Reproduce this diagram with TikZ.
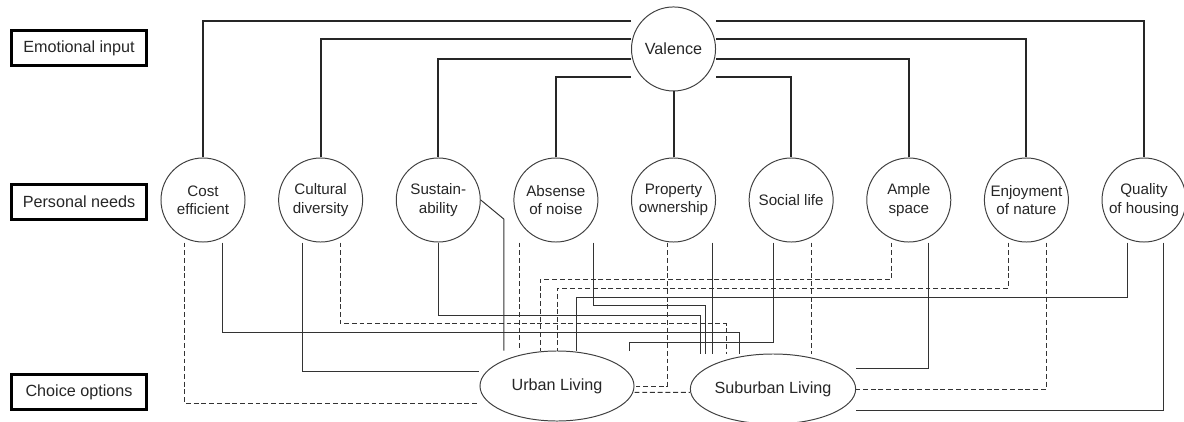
\documentclass[tikz,border=0pt]{standalone}
\usepackage{fontspec}
\setmainfont{Liberation Sans}
\usetikzlibrary{
  positioning,
  shapes.geometric
}

\begin{document}
\begin{tikzpicture}[
    x=0.025cm,
    y=-0.025cm,
    text=black!85,
    node distance=2.94cm,
    on grid,
    tier/.style={
        draw=black,
        line width=2.2pt,
        minimum width=3.375cm,
        minimum height=0.875cm,
        inner sep=0pt,
        font=\fontsize{11.5}{13}\selectfont
    },
    need/.style={
        circle,
        draw=black!75,
        line width=0.7pt,
        minimum size=2.1cm,
        inner sep=0pt,
        align=center,
        font=\fontsize{10.8}{13}\selectfont
    },
    choice/.style={
        ellipse,
        draw=black!75,
        line width=0.7pt,
        minimum width=3.85cm,
        minimum height=1.75cm,
        inner sep=0pt,
        font=\fontsize{11.5}{13}\selectfont
    },
    mainline/.style={
        line width=1.4pt,
        black!85
    },
    posline/.style={
        line width=0.7pt,
        black!80
    },
    negline/.style={
        posline,
        dash pattern=on 3.5pt off 2pt
    }
]

\useasboundingbox (0,0) rectangle (1184,421);

% ============================================================
% LEVELS
% ============================================================

\node[tier] (emo) at (79,48) {Emotional input};
\node[tier] (pers) at (79,202) {Personal needs};
\node[tier] (choi) at (79,392) {Choice options};

% ============================================================
% PERSONAL NEEDS
% ============================================================

\node[need] (cost) at (203,200) {Cost\\efficient};
\node[need, right=of cost] (cult) {Cultural\\diversity};
\node[need, right=of cult] (sust) {Sustain-\\ability};
\node[need, right=of sust] (absn) {Absense\\of noise};
\node[need, right=of absn] (prop) {Property\\ownership};
\node[need, right=of prop] (soc) {Social life};
\node[need, right=of soc] (amp) {Ample\\space};
\node[need, right=of amp] (enj) {Enjoyment\\of nature};
\node[need, right=of enj] (qual) {Quality\\of housing};

\node[need, font=\fontsize{11.5}{13}\selectfont, above=3.775cm of prop] (val) {Valence};

% ============================================================
% CHOICE OPTIONS
% ============================================================

\node[choice] (urb) at (557,386) {Urban Living};
\node[choice] (sub) at (773,389) {Suburban Living};

% ============================================================
% VALENCE LINKS
% ============================================================

\draw[mainline] ([yshift=0.71cm]val.west) -| (cost.north);
\draw[mainline] ([yshift=0.24cm]val.west) -| (cult.north);
\draw[mainline] ([yshift=-0.24cm]val.west) -| (sust.north);
\draw[mainline] ([yshift=-0.71cm]val.west) -| (absn.north);
\draw[mainline] (val) -- (prop);
\draw[mainline] ([yshift=-0.71cm]val.east) -| (soc.north);
\draw[mainline] ([yshift=-0.24cm]val.east) -| (amp.north);
\draw[mainline] ([yshift=0.24cm]val.east) -| (enj.north);
\draw[mainline] ([yshift=0.71cm]val.east) -| (qual.north);

% ============================================================
% DROP POINTS
% ============================================================

\coordinate (cost-a) at ([xshift=-0.475cm]cost.south);
\coordinate (cost-b) at ([xshift=0.475cm]cost.south);
\coordinate (cult-a) at ([xshift=-0.465cm]cult.south);
\coordinate (cult-b) at ([xshift=0.485cm]cult.south);
\coordinate (absn-a) at ([xshift=-0.92cm]absn.south);
\coordinate (absn-b) at ([xshift=0.93cm]absn.south);
\coordinate (prop-a) at ([xshift=-0.16cm]prop.south);
\coordinate (prop-b) at ([xshift=0.965cm]prop.south);
\coordinate (soc-a) at ([xshift=-0.45cm]soc.south);
\coordinate (soc-b) at ([xshift=0.5cm]soc.south);
\coordinate (amp-a) at ([xshift=-0.44cm]amp.south);
\coordinate (amp-b) at ([xshift=0.485cm]amp.south);
\coordinate (enj-a) at ([xshift=-0.455cm]enj.south);
\coordinate (enj-b) at ([xshift=0.495cm]enj.south);
\coordinate (qual-a) at ([xshift=-0.42cm]qual.south);
\coordinate (qual-b) at ([xshift=0.48cm]qual.south);

% ============================================================
% LINKS TO URBAN LIVING
% ============================================================

\draw[negline] (cost-a) |- ([yshift=-0.425cm]urb.west);
\draw[posline] (cult-a) |- ([yshift=0.375cm]urb.west);
\draw[posline] (sust.east) -- ++(0.575cm,-0.475cm) coordinate (sust-b)
    -- (sust-b |- urb.north);
\draw[negline] (absn-a) -- (absn-a |- urb.north);
\draw[negline] (prop-a) |- (urb.east);
\draw[posline] (soc-a) -- ++(0,-2.5cm) -| ([xshift=1.8cm]urb.north);
\draw[negline] (amp-a) -- ++(0,-0.925cm) -| ([xshift=-0.425cm]urb.north);
\draw[negline] (enj-a) -- ++(0,-1.15cm) -| (urb.north);
\draw[posline] (qual-a) -- ++(0,-1.375cm) -| ([xshift=0.475cm]urb.north);

% ============================================================
% LINKS TO SUBURBAN LIVING
% ============================================================

\draw[posline] (cost-b) -- ++(0,-2.25cm) -| ([xshift=-0.85cm]sub.north);
\draw[negline] (cult-b) -- ++(0,-2.025cm) -| ([xshift=-1.175cm]sub.north);
\draw[posline] (sust.south) -- ++(0,-1.825cm) -| ([xshift=-1.8cm]sub.north);
\draw[posline] (absn-b) -- ++(0,-1.575cm) -| ([xshift=-1.675cm]sub.north);
\draw[posline] (prop-b) -- (prop-b |- sub.north);
\draw[negline] (soc-b) -- (soc-b |- sub.north);
\draw[posline] (amp-b) |- ([yshift=0.525cm]sub.east);
\draw[negline] (enj-b) |- (sub.east);
\draw[posline] (qual-b) |- ([yshift=-0.525cm]sub.east);

\draw[negline] ([yshift=-0.16cm]urb.east) -- ([yshift=-0.085cm]sub.west);

\end{tikzpicture}
\end{document}
